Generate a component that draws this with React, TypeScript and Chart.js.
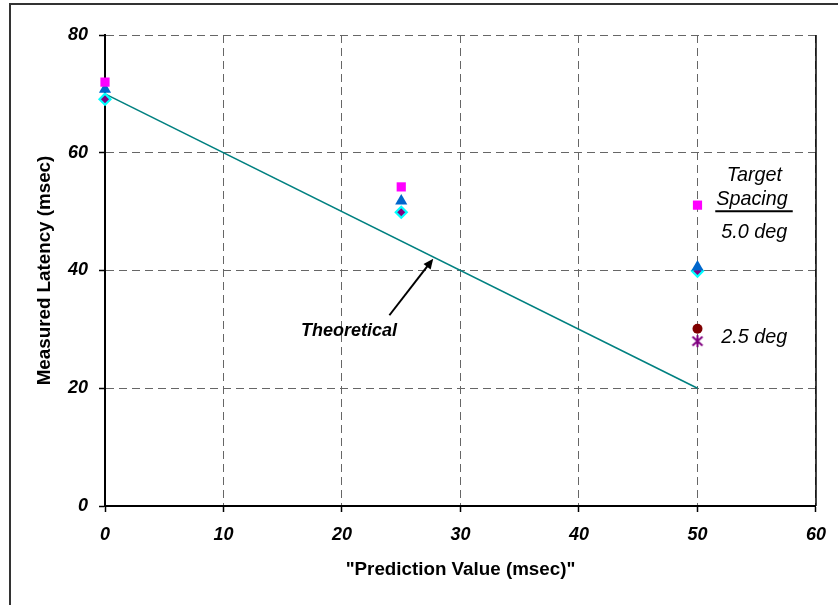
import React, { useEffect, useRef } from "react";
import { Chart, registerables } from "chart.js";

Chart.register(...registerables);

// ---- data ----
const predictionValues = [0, 25, 50];
const squareSeries = [72.0, 54.2, 51.1];
const triangleSeries = [70.8, 51.8, 40.6];
const diamondSeries = [69.1, 49.9, 39.9];
const circleX = [50];
const circleSeries = [30.1];
const starX = [50];
const starSeries = [28.0];
const theoreticalX = [0, 50];
const theoreticalY = [70, 20];
const xTickValues = [0, 10, 20, 30, 40, 50, 60];
const yTickValues = [0, 20, 40, 60, 80];

const xTitle = '"Prediction Value (msec)"';
const yTitle = "Measured Latency (msec)";

const labelTexts = ["Theoretical", "Target", "Spacing", "5.0 deg", "2.5 deg"];
const labelX = [20.6, 54.8, 54.6, 54.8, 54.8];
const labelY = [29.7, 56.2, 52.1, 46.5, 28.7];
const arrowTail = [24.0, 32.4];
const arrowHead = [27.7, 42.0];

const FONT = "'Liberation Sans', Arial, sans-serif";

const toPoints = (xs: number[], ys: number[]) => xs.map((x, i) => ({ x, y: ys[i] }));

function makeAsterisk(color: string) {
  const c = document.createElement("canvas");
  c.width = 14;
  c.height = 14;
  const g = c.getContext("2d")!;
  g.strokeStyle = color;
  g.lineWidth = 2;
  g.beginPath();
  g.moveTo(2, 2.5);
  g.lineTo(12, 11.5);
  g.moveTo(12, 2.5);
  g.lineTo(2, 11.5);
  g.moveTo(7, 1);
  g.lineTo(7, 13);
  g.stroke();
  return c;
}

const overlayPlugin = {
  id: "overlay",
  afterDraw(chart: any) {
    const { ctx, chartArea, scales } = chart;
    const xs = scales.x;
    const ys = scales.y;
    ctx.save();
    ctx.strokeStyle = "#000";
    ctx.lineWidth = 1.5;
    ctx.beginPath();
    ctx.moveTo(chartArea.right, chartArea.top);
    ctx.lineTo(chartArea.right, chartArea.bottom);
    ctx.stroke();

    ctx.fillStyle = "#000";
    ctx.font = `bold 18.8px ${FONT}`;
    ctx.textAlign = "center";
    ctx.textBaseline = "middle";
    ctx.fillText(xTitle, (chartArea.left + chartArea.right) / 2, 570);
    ctx.save();
    ctx.translate(45, (chartArea.top + chartArea.bottom) / 2);
    ctx.rotate(-Math.PI / 2);
    ctx.fillText(yTitle, 0, 0);
    ctx.restore();

    labelTexts.forEach((t, i) => {
      const px = xs.getPixelForValue(labelX[i]);
      const py = ys.getPixelForValue(labelY[i]);
      ctx.font = (i === 0 ? "italic bold 18px " : "italic 19.8px ") + FONT;
      ctx.fillText(t, px, py);
      if (t === "Spacing") {
        const w = ctx.measureText(t).width;
        ctx.lineWidth = 2;
        ctx.beginPath();
        ctx.moveTo(px - w / 2 - 1, py + 12);
        ctx.lineTo(px + w / 2 + 5, py + 12);
        ctx.stroke();
      }
    });

    const tx = xs.getPixelForValue(arrowTail[0]);
    const ty = ys.getPixelForValue(arrowTail[1]);
    const hx = xs.getPixelForValue(arrowHead[0]);
    const hy = ys.getPixelForValue(arrowHead[1]);
    const ang = Math.atan2(hy - ty, hx - tx);
    const len = 11;
    ctx.lineWidth = 2;
    ctx.beginPath();
    ctx.moveTo(tx, ty);
    ctx.lineTo(hx - Math.cos(ang) * len * 0.8, hy - Math.sin(ang) * len * 0.8);
    ctx.stroke();
    ctx.beginPath();
    ctx.moveTo(hx, hy);
    ctx.lineTo(hx - len * Math.cos(ang - 0.42), hy - len * Math.sin(ang - 0.42));
    ctx.lineTo(hx - len * Math.cos(ang + 0.42), hy - len * Math.sin(ang + 0.42));
    ctx.closePath();
    ctx.fill();
    ctx.restore();
  },
};

export default function App() {
  const ref = useRef<HTMLCanvasElement>(null);
  useEffect(() => {
    if (!ref.current) return;
    const gridCommon = {
      color: "#666",
      lineWidth: 1,
      tickLength: 6,
      tickColor: "#000",
      tickWidth: 1.5,
      tickBorderDash: [],
    };
    const chart = new Chart(ref.current, {
      type: "scatter",
      data: {
        datasets: [
          {
            label: "Theoretical",
            data: toPoints(theoreticalX, theoreticalY),
            showLine: true,
            borderColor: "#008080",
            borderWidth: 1.6,
            pointRadius: 0,
            order: 10,
            clip: false,
          },
          {
            label: "square",
            data: toPoints(predictionValues, squareSeries),
            pointStyle: "rect",
            pointRadius: 6.5,
            backgroundColor: "#FF00FF",
            borderColor: "#FF00FF",
            borderWidth: 0,
            clip: false,
          },
          {
            label: "triangle",
            data: toPoints(predictionValues, triangleSeries),
            pointStyle: "triangle",
            pointRadius: 7,
            backgroundColor: "#0066CC",
            borderColor: "#0066CC",
            borderWidth: 0,
            clip: false,
          },
          {
            label: "diamond",
            data: toPoints(predictionValues, diamondSeries),
            pointStyle: "rectRot",
            pointRadius: 5.5,
            backgroundColor: "#800080",
            borderColor: "#00FFFF",
            borderWidth: 2.2,
            clip: false,
          },
          {
            label: "circle",
            data: toPoints(circleX, circleSeries),
            pointStyle: "circle",
            pointRadius: 5,
            backgroundColor: "#800000",
            borderColor: "#800000",
            borderWidth: 0,
            clip: false,
          },
          {
            label: "star",
            data: toPoints(starX, starSeries),
            pointStyle: makeAsterisk("#800080"),
            pointRadius: 7,
            backgroundColor: "#800080",
            borderColor: "#800080",
            borderWidth: 1.8,
            clip: false,
          },
        ],
      },
      options: {
        responsive: false,
        animation: false,
        events: [],
        layout: { padding: { left: 0, right: 21, top: 35, bottom: 0 } },
        plugins: { legend: { display: false }, tooltip: { enabled: false } },
        scales: {
          x: {
            type: "linear",
            min: 0,
            max: 60,
            afterFit: (s: any) => {
              s.height = 99;
            },
            afterBuildTicks: (s: any) => {
              s.ticks = xTickValues.map((v) => ({ value: v }));
            },
            border: { display: true, color: "#000", width: 2, dash: [8, 5] },
            grid: { ...gridCommon },
            ticks: {
              color: "#000",
              padding: 12,
              font: { family: FONT, size: 18, weight: "bold", style: "italic" },
            },
          },
          y: {
            type: "linear",
            min: 0,
            max: 80,
            afterFit: (s: any) => {
              s.width = 105;
            },
            afterBuildTicks: (s: any) => {
              s.ticks = yTickValues.map((v) => ({ value: v }));
            },
            border: { display: true, color: "#000", width: 2, dash: [8, 5] },
            grid: { ...gridCommon },
            ticks: {
              color: "#000",
              padding: 11,
              font: { family: FONT, size: 18, weight: "bold", style: "italic" },
            },
          },
        },
      },
      plugins: [overlayPlugin],
    } as any);
    return () => chart.destroy();
  }, []);

  return (
    <div style={{ position: "absolute", left: 0, top: 0, width: 838, height: 605, background: "#fff", overflow: "hidden" }}>
      <div
        style={{
          position: "absolute",
          left: 9,
          top: 3,
          width: 850,
          height: 620,
          border: "2px solid #333",
          boxSizing: "border-box",
        }}
      />
      <canvas ref={ref} width={838} height={605} style={{ position: "absolute", left: 0, top: 0 }} />
    </div>
  );
}
